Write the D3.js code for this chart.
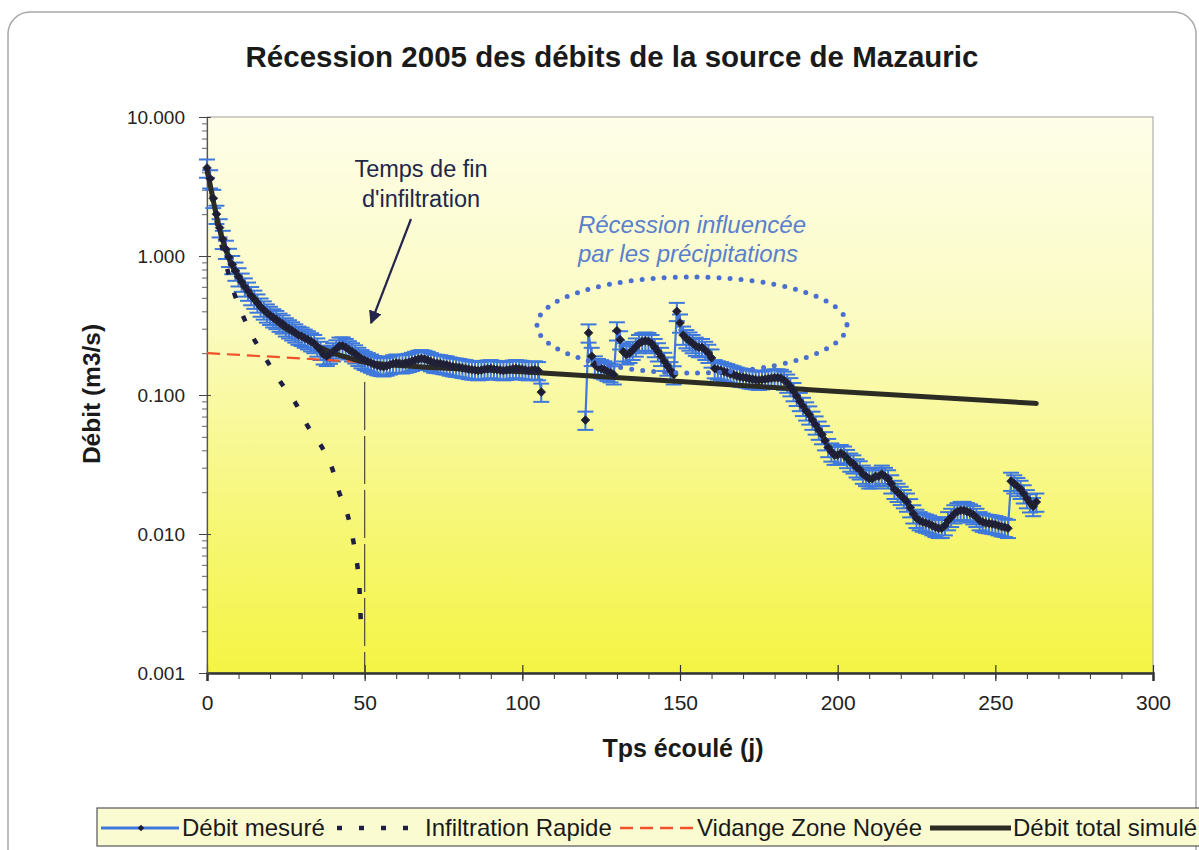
<!DOCTYPE html>
<html>
<head>
<meta charset="utf-8">
<script src="https://cdnjs.cloudflare.com/ajax/libs/d3/7.8.5/d3.min.js"></script>
<style>
body { margin: 0; background: #fff; }
svg text { font-family: "Liberation Sans", Arial, sans-serif; }
</style>
</head>
<body>
<div id="chart-area"></div>
<script>
// measured discharge (m3/s), one value per day
// first block: days 0 to 106
var debutMesure1 = 0;
var debitMesure1 = [4.3,3.6,2.6,2.0,1.6,1.32,1.12,0.98,0.87,0.78,
  0.71,0.65,0.60,0.56,0.52,0.49,0.46,0.43,0.41,0.39,
  0.375,0.36,0.35,0.335,0.325,0.31,0.30,0.29,0.28,0.27,
  0.265,0.257,0.25,0.242,0.235,0.222,0.21,0.195,0.19,0.197,
  0.205,0.215,0.225,0.226,0.22,0.212,0.205,0.198,0.19,0.183,
  0.178,0.174,0.17,0.166,0.163,0.161,0.16,0.162,0.165,0.168,
  0.17,0.169,0.168,0.17,0.172,0.175,0.178,0.181,0.183,0.181,
  0.178,0.174,0.17,0.169,0.168,0.166,0.165,0.162,0.16,0.159,
  0.158,0.156,0.155,0.153,0.152,0.151,0.15,0.151,0.153,0.154,
  0.155,0.153,0.152,0.151,0.15,0.151,0.152,0.154,0.155,0.154,
  0.153,0.151,0.15,0.151,0.152,0.15,0.105];
// second block: days 120 to 263
var debutMesure2 = 120;
var debitMesure2 = [0.066,0.28,0.19,0.165,0.158,0.155,0.152,0.148,0.145,0.14,
  0.29,0.25,0.205,0.195,0.2,0.21,0.222,0.235,0.242,0.245,
  0.243,0.235,0.22,0.205,0.19,0.175,0.162,0.15,0.14,0.40,
  0.33,0.27,0.255,0.245,0.235,0.225,0.22,0.22,0.21,0.2,
  0.185,0.155,0.152,0.15,0.147,0.145,0.142,0.14,0.137,0.135,
  0.134,0.133,0.131,0.13,0.129,0.128,0.129,0.13,0.131,0.132,
  0.133,0.133,0.132,0.128,0.122,0.115,0.106,0.098,0.09,0.083,
  0.077,0.072,0.066,0.061,0.056,0.052,0.047,0.042,0.039,0.037,
  0.037,0.038,0.037,0.035,0.033,0.032,0.03,0.029,0.027,0.026,
  0.025,0.025,0.026,0.026,0.027,0.026,0.025,0.023,0.021,0.020,
  0.019,0.018,0.017,0.0155,0.014,0.013,0.0125,0.0122,0.012,0.0118,
  0.0115,0.0112,0.011,0.011,0.0115,0.0125,0.0132,0.014,0.0145,0.0148,
  0.0148,0.0145,0.0142,0.0138,0.0132,0.0125,0.0122,0.012,0.0119,0.0118,
  0.0117,0.0115,0.0113,0.0112,0.011,0.024,0.023,0.022,0.021,0.0195,
  0.018,0.0168,0.0158,0.017];

// rapid infiltration component
var joursInfil = [0,1,2,3,4,5,6,7,8,9,11,14.6,18.4,23,28,31.7,36.5,39.6,41.9,44.4,46,47.3,48.2,48.5,48.8];
var debitInfil = [4.1,3.1,2.35,1.8,1.4,1.1,0.88,0.72,0.6,0.51,0.39,0.26,0.186,0.127,0.088,0.061,0.042,0.030,0.020,
  0.0142,0.0099,0.0068,0.0047,0.0033,0.0023];

// saturated zone drainage
var joursVidange = [0,25,50,100,150,200,263];
var debitVidange = [0.200,0.186,0.172,0.147,0.125,0.106,0.087];

// total simulated discharge
var joursTotal = [0,2,4,6,8,10,15,20,25,30,35,40,45,50,100,150,200,263];
var debitTotal = [4.3,2.5,1.55,1.1,0.85,0.7,0.48,0.37,0.3,0.26,0.225,0.2,0.185,0.172,0.147,0.125,0.106,0.087];

var xTicks = [0,50,100,150,200,250,300];
var yTicks = [0.001,0.01,0.1,1,10];
var finInfiltration = 50;

var width = 1199, height = 850;
var margin = {left: 207, right: 46, top: 117, bottom: 177};

var svg = d3.select("#chart-area").append("svg")
  .attr("width", width)
  .attr("height", height);

var defs = svg.append("defs");
var grad = defs.append("linearGradient")
  .attr("id", "fond")
  .attr("x1", 0).attr("y1", 0).attr("x2", 0).attr("y2", 1);
grad.append("stop").attr("offset", "0%").attr("stop-color", "#fefee9");
grad.append("stop").attr("offset", "35%").attr("stop-color", "#fbfbc4");
grad.append("stop").attr("offset", "70%").attr("stop-color", "#f7f77c");
grad.append("stop").attr("offset", "100%").attr("stop-color", "#f4f444");

// outer frame
svg.append("rect")
  .attr("x", 8).attr("y", 12)
  .attr("width", 1188).attr("height", 860)
  .attr("rx", 22)
  .attr("fill", "#fff")
  .attr("stroke", "#a8a8a8")
  .attr("stroke-width", 1.5);

var x = d3.scaleLinear()
  .domain([0, 300])
  .range([margin.left, width - margin.right]);

var y = d3.scaleLog()
  .domain([0.001, 10])
  .range([height - margin.bottom, margin.top]);

// plot area
svg.append("rect")
  .attr("x", x(0)).attr("y", y(10))
  .attr("width", x(300) - x(0))
  .attr("height", y(0.001) - y(10))
  .attr("fill", "url(#fond)")
  .attr("stroke", "#a0a0a0")
  .attr("stroke-width", 1);

svg.append("text")
  .attr("x", 612).attr("y", 67)
  .attr("text-anchor", "middle")
  .attr("font-size", "29.5px")
  .attr("font-weight", "bold")
  .attr("fill", "#1a1a1a")
  .text("Récession 2005 des débits de la source de Mazauric");

// axes
var xMinor = d3.axisBottom(x).ticks(30).tickSize(6).tickFormat("");
svg.append("g")
  .attr("transform", "translate(0," + y(0.001) + ")")
  .call(xMinor)
  .call(function(g){ g.select(".domain").remove(); })
  .selectAll("line").attr("stroke", "#333");

var xAxis = d3.axisBottom(x).tickValues(xTicks).tickSize(8).tickPadding(14);
var gx = svg.append("g")
  .attr("transform", "translate(0," + y(0.001) + ")")
  .call(xAxis);
gx.select(".domain").attr("stroke", "#333").attr("stroke-width", 2.5);
gx.selectAll(".tick line").attr("y1", -8).attr("stroke", "#333").attr("stroke-width", 1.2);
gx.selectAll(".tick text").attr("font-size", "21px").attr("fill", "#222")
  .style("font-family", "'Liberation Sans', Arial, sans-serif");

var yMinor = d3.axisLeft(y).tickValues(y.ticks()).tickSize(5).tickFormat("");
svg.append("g")
  .attr("transform", "translate(" + x(0) + ",0)")
  .call(yMinor)
  .call(function(g){ g.select(".domain").remove(); })
  .selectAll("line").attr("stroke", "#666");

var yAxis = d3.axisLeft(y).tickValues(yTicks).tickSize(8).tickPadding(14).tickFormat(d3.format(".3f"));
var gy = svg.append("g")
  .attr("transform", "translate(" + x(0) + ",0)")
  .call(yAxis);
gy.select(".domain").attr("stroke", "#555").attr("stroke-width", 1.2);
gy.selectAll(".tick line").attr("x1", 4).attr("stroke", "#444");
gy.selectAll(".tick text").attr("font-size", "19px").attr("fill", "#222")
  .style("font-family", "'Liberation Sans', Arial, sans-serif");

svg.append("text")
  .attr("x", x(150) + 3).attr("y", 757)
  .attr("text-anchor", "middle")
  .attr("font-size", "25px")
  .attr("font-weight", "bold")
  .attr("fill", "#1a1a1a")
  .text("Tps écoulé (j)");

svg.append("text")
  .attr("transform", "translate(100," + (y(0.1) - 1) + ") rotate(-90)")
  .attr("text-anchor", "middle")
  .attr("font-size", "24.5px")
  .attr("font-weight", "bold")
  .attr("fill", "#1a1a1a")
  .text("Débit (m3/s)");

// end of infiltration marker
svg.append("line")
  .attr("x1", x(finInfiltration)).attr("x2", x(finInfiltration))
  .attr("y1", 382).attr("y2", y(0.001))
  .attr("stroke", "#4a4a3a")
  .attr("stroke-width", 1.2)
  .attr("stroke-dasharray", "48,6");

// measured series
function bloc(debut, valeurs){
  return valeurs.map(function(v, i){ return {t: debut + i, q: v}; });
}
var blocs = [bloc(debutMesure1, debitMesure1), bloc(debutMesure2, debitMesure2)];
var valides = blocs[0].concat(blocs[1]);

var barres = svg.append("g").attr("stroke", "#3f78dc").attr("stroke-width", 2);
barres.selectAll(".eb").data(valides).enter().append("line")
  .attr("x1", function(d){ return x(d.t); })
  .attr("x2", function(d){ return x(d.t); })
  .attr("y1", function(d){ return y(d.q * 1.15); })
  .attr("y2", function(d){ return y(d.q * 0.85); });
barres.selectAll(".cap-haut").data(valides).enter().append("line")
  .attr("x1", function(d){ return x(d.t) - 8; })
  .attr("x2", function(d){ return x(d.t) + 8; })
  .attr("y1", function(d){ return y(d.q * 1.15); })
  .attr("y2", function(d){ return y(d.q * 1.15); });
barres.selectAll(".cap-bas").data(valides).enter().append("line")
  .attr("x1", function(d){ return x(d.t) - 8; })
  .attr("x2", function(d){ return x(d.t) + 8; })
  .attr("y1", function(d){ return y(d.q * 0.85); })
  .attr("y2", function(d){ return y(d.q * 0.85); });

var ligne = d3.line()
  .x(function(d){ return x(d.t); })
  .y(function(d){ return y(d.q); });

svg.append("g").selectAll("path").data(blocs).enter().append("path")
  .attr("d", ligne)
  .attr("fill", "none")
  .attr("stroke", "#3f78dc")
  .attr("stroke-width", 2.2);

// models
var infil = joursInfil.map(function(d, i){ return {t: d, q: debitInfil[i]}; });
var vidange = joursVidange.map(function(d, i){ return {t: d, q: debitVidange[i]}; });
var total = joursTotal.map(function(d, i){ return {t: d, q: debitTotal[i]}; });
var courbe = d3.line().curve(d3.curveMonotoneX)
  .x(function(d){ return x(d.t); })
  .y(function(d){ return y(d.q); });

svg.append("path")
  .datum(vidange)
  .attr("d", courbe)
  .attr("fill", "none")
  .attr("stroke", "#f0502a")
  .attr("stroke-width", 2.2)
  .attr("stroke-dasharray", "13,7");

svg.append("path")
  .datum(infil)
  .attr("d", d3.line().curve(d3.curveCatmullRom)
    .x(function(d){ return x(d.t); })
    .y(function(d){ return y(d.q); }))
  .attr("fill", "none")
  .attr("stroke", "#1f1f45")
  .attr("stroke-width", 4.5)
  .attr("stroke-dasharray", "6,19");

svg.append("path")
  .datum(total)
  .attr("d", courbe)
  .attr("fill", "none")
  .attr("stroke", "#2c2c24")
  .attr("stroke-width", 5)
  .attr("stroke-linecap", "round");

var losange = d3.symbol().type(d3.symbolSquare).size(38);
svg.append("g").selectAll("path").data(valides).enter().append("path")
  .attr("d", losange)
  .attr("transform", function(d){ return "translate(" + x(d.t) + "," + y(d.q) + ") rotate(45)"; })
  .attr("fill", "#1d1d33")
  .attr("stroke", "#2a2a40")
  .attr("stroke-width", 0.8);

// annotations
svg.append("text")
  .attr("x", 421).attr("y", 177)
  .attr("text-anchor", "middle")
  .attr("font-size", "23.5px")
  .attr("fill", "#22264a")
  .text("Temps de fin");
svg.append("text")
  .attr("x", 421).attr("y", 207)
  .attr("text-anchor", "middle")
  .attr("font-size", "23.5px")
  .attr("fill", "#22264a")
  .text("d'infiltration");

defs.append("marker")
  .attr("id", "fleche")
  .attr("viewBox", "0 0 10 10")
  .attr("refX", 9).attr("refY", 5)
  .attr("markerWidth", 6).attr("markerHeight", 6)
  .attr("orient", "auto")
  .append("path")
  .attr("d", "M0,0L10,5L0,10Z")
  .attr("fill", "#24244f");

svg.append("line")
  .attr("x1", 411).attr("y1", 219)
  .attr("x2", 371).attr("y2", 323)
  .attr("stroke", "#24244f")
  .attr("stroke-width", 2.2)
  .attr("marker-end", "url(#fleche)");

svg.append("text")
  .attr("x", 692).attr("y", 233)
  .attr("text-anchor", "middle")
  .attr("font-size", "24px")
  .attr("font-style", "italic")
  .attr("fill", "#5a7fcc")
  .text("Récession influencée");
svg.append("text")
  .attr("x", 688).attr("y", 262)
  .attr("text-anchor", "middle")
  .attr("font-size", "24px")
  .attr("font-style", "italic")
  .attr("fill", "#5a7fcc")
  .text("par les précipitations");

svg.append("ellipse")
  .attr("cx", 692).attr("cy", 325)
  .attr("rx", 155).attr("ry", 48)
  .attr("fill", "none")
  .attr("stroke", "#4a6fd0")
  .attr("stroke-width", 5)
  .attr("stroke-linecap", "round")
  .attr("stroke-dasharray", "0,11");

// legend
var leg = svg.append("g").attr("transform", "translate(97,808)");
leg.append("rect")
  .attr("width", 1120).attr("height", 38)
  .attr("fill", "#fbfbd2")
  .attr("stroke", "#555")
  .attr("stroke-width", 1.2);

var ly = 20;
leg.append("line").attr("x1", 4).attr("x2", 82).attr("y1", ly).attr("y2", ly)
  .attr("stroke", "#3f78dc").attr("stroke-width", 3);
leg.append("path").attr("d", d3.symbol().type(d3.symbolSquare).size(22))
  .attr("transform", "translate(44," + ly + ") rotate(45)")
  .attr("fill", "#1d1d33");
leg.append("text").attr("x", 85).attr("y", ly + 8).attr("font-size", "24px").attr("fill", "#1a1a1a")
  .text("Débit mesuré");

leg.append("line").attr("x1", 240).attr("x2", 322).attr("y1", ly).attr("y2", ly)
  .attr("stroke", "#1f1f45").attr("stroke-width", 4.5).attr("stroke-dasharray", "5,17");
leg.append("text").attr("x", 328).attr("y", ly + 8).attr("font-size", "24px").attr("fill", "#1a1a1a")
  .text("Infiltration Rapide");

leg.append("line").attr("x1", 523).attr("x2", 596).attr("y1", ly).attr("y2", ly)
  .attr("stroke", "#f0502a").attr("stroke-width", 2.5).attr("stroke-dasharray", "13,7");
leg.append("text").attr("x", 600).attr("y", ly + 8).attr("font-size", "24px").attr("fill", "#1a1a1a")
  .text("Vidange Zone Noyée");

leg.append("line").attr("x1", 833).attr("x2", 914).attr("y1", ly).attr("y2", ly)
  .attr("stroke", "#2c2c24").attr("stroke-width", 5);
leg.append("text").attr("x", 916).attr("y", ly + 8).attr("font-size", "24px").attr("fill", "#1a1a1a")
  .text("Débit total simulé");
</script>
</body>
</html>
